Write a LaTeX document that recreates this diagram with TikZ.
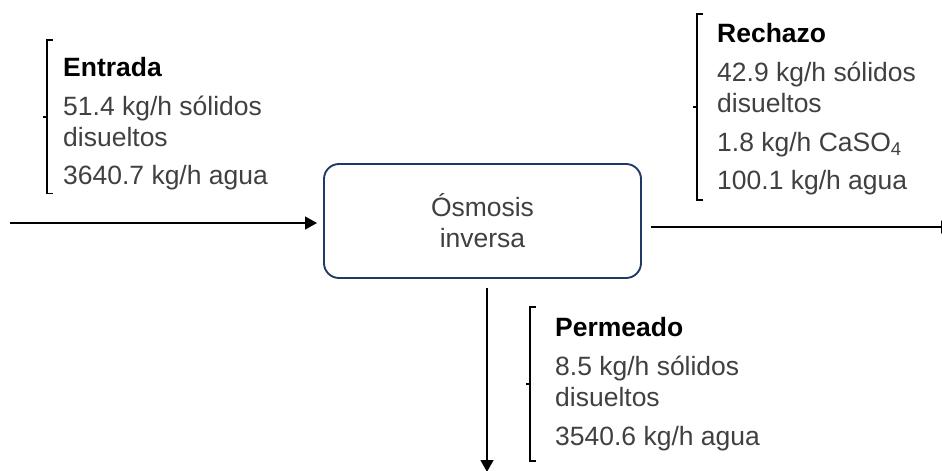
\documentclass[tikz,border=0pt]{standalone}
\usepackage{fontspec}
\setmainfont{Liberation Sans}
\usepackage{xcolor}
\usepackage{tikz}
\usetikzlibrary{positioning,arrows.meta,calc}

\definecolor{boxnavy}{HTML}{203864}
\definecolor{labelgray}{HTML}{404040}

\begin{document}
\begin{tikzpicture}[
  x=0.03cm, y=-0.03cm,
  font=\fontsize{22.6}{26.5}\selectfont,
  process/.style={
    rectangle,
    rounded corners=0.45cm,
    draw=boxnavy,
    line width=1.6pt,
    minimum width=9.51cm,
    minimum height=3.42cm,
    align=center,
    text=labelgray,
    inner sep=0pt
  },
  stream/.style={align=left, text=labelgray, inner sep=0pt, anchor=north west},
  flow/.style={-{Triangle[length=0.36cm, width=0.38cm]}, line width=2pt, black},
  brace/.style={line width=1.6pt, black}
]
\useasboundingbox (0,0) rectangle (942,471);

% --- Process unit ---
\node[process] (ro) at (482.5,221) {Ósmosis\\inversa};

% --- Stream data ---
\node[stream] (feed) at (63,57) {\textcolor{black}{\bfseries Entrada}\\[6.5pt]51.4 kg/h sólidos\\disueltos\\[6.5pt]3640.7 kg/h agua};
\node[stream] (reject) at (717,23.5) {\textcolor{black}{\bfseries Rechazo}\\[6.5pt]42.9 kg/h sólidos\\disueltos\\[6.5pt]1.8 kg/h CaSO\textsubscript{4}\\[6.5pt]100.1 kg/h agua};
\node[stream] (perm) at (555,317.5) {\textcolor{black}{\bfseries Permeado}\\[6.5pt]8.5 kg/h sólidos\\disueltos\\[6.5pt]3540.6 kg/h agua};

% --- Brackets ---
\coordinate (feedtop) at ($(feed.north west)+(-16,-17)$);
\coordinate (feedbot) at ($(feed.south west)+(-16,3)$);
\draw[brace] ($(feedtop)+(6,0)$) -- (feedtop) -- (feedbot) -- ++(6,0);
\draw[brace] ($(feedtop)!0.5!(feedbot)$) -- ++(-4,0);

\coordinate (rejecttop) at ($(reject.north west)+(-20,-9.5)$);
\coordinate (rejectbot) at ($(reject.south west)+(-20,4)$);
\draw[brace] ($(rejecttop)+(6,0)$) -- (rejecttop) -- (rejectbot) -- ++(6,0);
\draw[brace] ($(rejecttop)!0.5!(rejectbot)$) -- ++(-4,0);

\coordinate (permtop) at ($(perm.north west)+(-25,-10.5)$);
\coordinate (permbot) at ($(perm.south west)+(-25,10)$);
\draw[brace] ($(permtop)+(6,0)$) -- (permtop) -- (permbot) -- ++(6,0);
\draw[brace] ($(permtop)!0.5!(permbot)$) -- ++(-4,0);

% --- Flows in and out ---
\coordinate (feedin) at (10,223);
\coordinate (rejectout) at (953,227);
\coordinate (permout) at (487,472);
\draw[flow, shorten >=0.18cm] (feedin) -- (feedin -| ro.west);
\draw[flow, shorten <=0.27cm] (rejectout -| ro.east) -- (rejectout);
\draw[flow, shorten <=0.27cm] (permout |- ro.south) -- (permout);

\end{tikzpicture}
\end{document}
